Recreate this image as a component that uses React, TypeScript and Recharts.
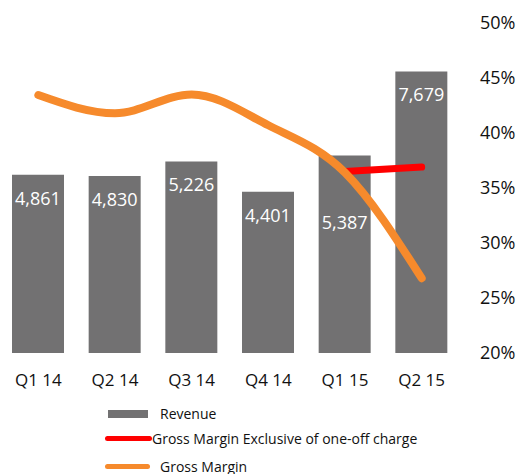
import React from "react"
import {
  ComposedChart,
  Bar,
  Line,
  XAxis,
  YAxis,
  LabelList,
} from "recharts"

const quarters = ["Q1 14", "Q2 14", "Q3 14", "Q4 14", "Q1 15", "Q2 15"]
const revenue = [4861, 4830, 5226, 4401, 5387, 7679]
const grossMarginExOneOff = [null, null, null, null, 36.5, 36.9]
const grossMargin = [43.45, 41.8, 43.5, 40.7, 36.4, 26.8]
const marginTicks = [20, 25, 30, 35, 40, 45, 50]

const seriesNames = {
  revenue: "Revenue",
  exOneOff: "Gross Margin Exclusive of one-off charge",
  margin: "Gross Margin",
}

const data = quarters.map((q, i) => ({
  name: q,
  revenue: revenue[i],
  exOneOff: grossMarginExOneOff[i],
  margin: grossMargin[i],
}))

const font = "'Open Sans', sans-serif"

function BarValue(props: any) {
  const { x, y, width, value, index } = props
  // the Q1 15 label sits lower so the line does not cross it
  const dy = index === 4 ? 67 : 23
  return (
    <text
      x={x + width / 2}
      y={y + dy}
      fill="#ffffff"
      fontSize={18}
      fontFamily={font}
      textAnchor="middle"
      dominantBaseline="central"
    >
      {value.toLocaleString("en-US")}
    </text>
  )
}

export default function App() {
  return (
    <div style={{ position: "absolute", left: 0, top: 0, width: 520, height: 474, background: "#fff" }}>
      <ComposedChart
        width={520}
        height={474}
        data={data}
        margin={{ top: 23, right: 0, left: 0, bottom: 0 }}
      >
        <XAxis
          dataKey="name"
          height={121}
          axisLine={false}
          tickLine={false}
          tickSize={0}
          tickMargin={21}
          tick={{ fill: "#111", fontSize: 17, fontFamily: font }}
        />
        <YAxis yAxisId="left" hide domain={[0, 9000]} />
        <YAxis
          yAxisId="right"
          orientation="right"
          width={60}
          domain={[20, 50]}
          ticks={marginTicks}
          axisLine={false}
          tickLine={false}
          tickSize={0}
          tickMargin={20}
          tickFormatter={(v) => `${v}%`}
          tick={{ fill: "#111", fontSize: 18, fontFamily: font, textAnchor: "start" }}
        />
        <Bar
          yAxisId="left"
          dataKey="revenue"
          name={seriesNames.revenue}
          fill="#727172"
          barSize={52}
          isAnimationActive={false}
        >
          <LabelList dataKey="revenue" content={BarValue} />
        </Bar>
        <Line
          yAxisId="right"
          dataKey="exOneOff"
          name={seriesNames.exOneOff}
          type="monotone"
          stroke="#ff0000"
          strokeWidth={7}
          strokeLinecap="round"
          dot={false}
          isAnimationActive={false}
        />
        <Line
          yAxisId="right"
          dataKey="margin"
          name={seriesNames.margin}
          type="monotone"
          stroke="#f68a2c"
          strokeWidth={8}
          strokeLinecap="round"
          dot={false}
          isAnimationActive={false}
        />
      </ComposedChart>
      <div style={{ position: "absolute", left: 105, top: 404, fontFamily: font, fontSize: 14, color: "#111" }}>
        <div style={{ position: "absolute", left: 3, top: 6, width: 40, height: 8, background: "#727172" }} />
        <div style={{ position: "absolute", left: 55, top: 0, whiteSpace: "nowrap" }}>{seriesNames.revenue}</div>
        <div style={{ position: "absolute", left: 0, top: 32, width: 47, height: 5, background: "#ff0000", borderRadius: 3 }} />
        <div style={{ position: "absolute", left: 47, top: 25, whiteSpace: "nowrap" }}>{seriesNames.exOneOff}</div>
        <div style={{ position: "absolute", left: 0, top: 60, width: 45, height: 5, background: "#f68a2c", borderRadius: 3 }} />
        <div style={{ position: "absolute", left: 55, top: 53, whiteSpace: "nowrap" }}>{seriesNames.margin}</div>
      </div>
    </div>
  )
}
